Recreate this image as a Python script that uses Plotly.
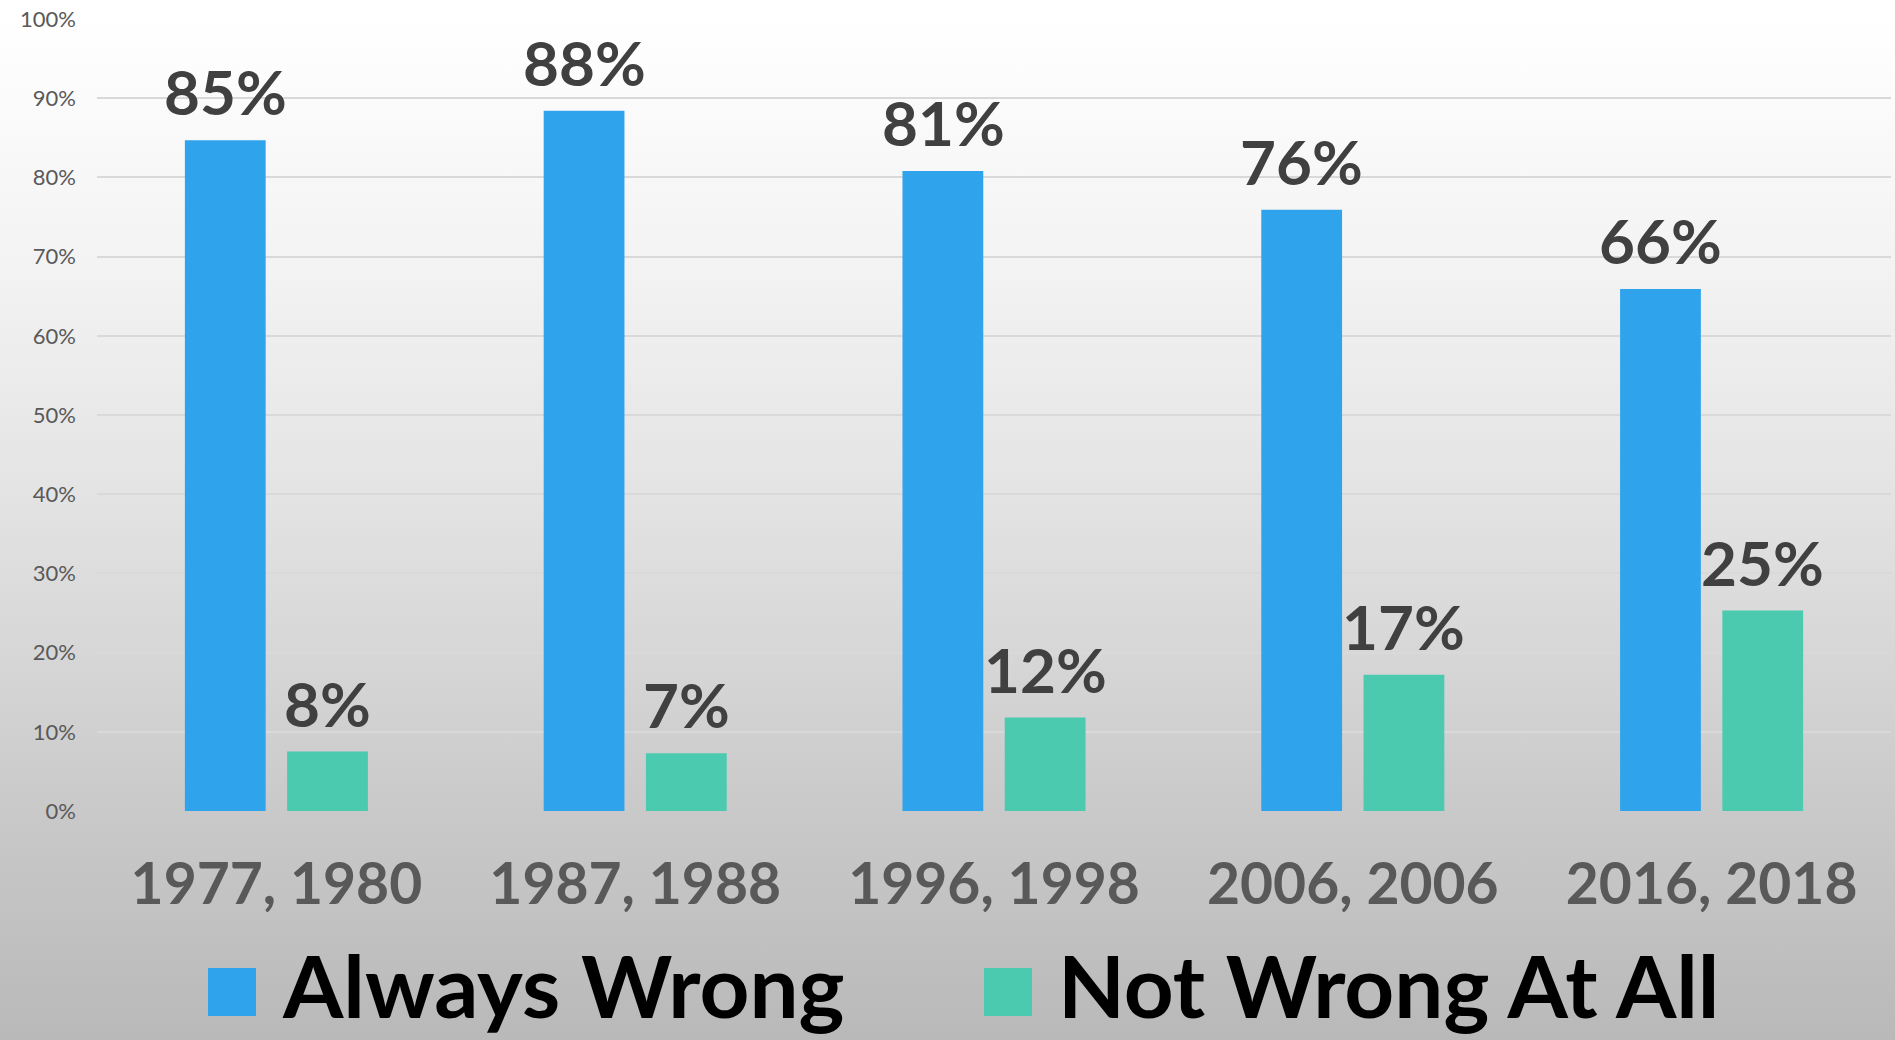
import base64
import plotly.graph_objects as go

categories = ["1977, 1980", "1987, 1988", "1996, 1998", "2006, 2006", "2016, 2018"]
series_names = ["Always Wrong", "Not Wrong At All"]
always_wrong = [84.7, 88.4, 80.8, 75.9, 65.9]
not_wrong = [7.5, 7.3, 11.8, 17.2, 25.3]
colors = ["#2FA3EC", "#4BCAAF"]
y_ticks = [0, 10, 20, 30, 40, 50, 60, 70, 80, 90, 100]

W, H = 1895, 1040
ML, MR, MT, MB = 97, 4, 19, 229
PW, PH = W - ML - MR, H - MT - MB


def px_x(px):
    return (px - ML) / PW


def px_y(py):
    return (H - MB - py) / PH


FONT = "Lato"

fig = go.Figure()
for name, vals, col in zip(series_names, [always_wrong, not_wrong], colors):
    fig.add_trace(go.Bar(x=categories, y=vals, name=name, marker=dict(color=col, line=dict(width=0)),
                         showlegend=False, hoverinfo="x+y"))

# value labels
annotations = []
for i, (vals, shift) in enumerate(zip([always_wrong, not_wrong], [-51, 51])):
    for c, v in zip(categories, vals):
        annotations.append(dict(x=c, y=v, xref="x", yref="y", text=f"{v:.0f}%", showarrow=False,
                                xshift=shift, yshift=10, yanchor="bottom", xanchor="center",
                                font=dict(family=FONT, size=62, color="#404040", weight="bold")))

# legend (manual, large)
shapes = []
legend_sq = [(208, 968), (984, 968)]
legend_tx = [280, 1056]
for (sx, sy), tx, name, col in zip(legend_sq, legend_tx, series_names, colors):
    shapes.append(dict(type="rect", xref="paper", yref="paper", x0=px_x(sx), x1=px_x(sx + 48),
                       y0=px_y(sy + 48), y1=px_y(sy), fillcolor=col, line=dict(width=0), layer="above"))
    annotations.append(dict(x=px_x(tx), y=px_y(1039), xref="paper", yref="paper", text=name,
                            showarrow=False, xanchor="left", yanchor="bottom",
                            font=dict(family=FONT, size=87, color="#000000", weight="bold")))

svg = f'''<svg xmlns="http://www.w3.org/2000/svg" width="{W}" height="{H}" preserveAspectRatio="none">
<defs><linearGradient id="g" x1="0" y1="0" x2="0" y2="1">
<stop offset="0" stop-color="#ffffff"/>
<stop offset="0.04" stop-color="#fefefe"/>
<stop offset="0.27" stop-color="#f2f2f2"/>
<stop offset="0.48" stop-color="#e3e3e3"/>
<stop offset="0.67" stop-color="#d3d3d3"/>
<stop offset="0.78" stop-color="#c9c9c9"/>
<stop offset="1" stop-color="#b9b9b9"/>
</linearGradient></defs>
<rect x="0" y="0" width="{W}" height="{H}" fill="url(#g)"/></svg>'''
src = "data:image/svg+xml;base64," + base64.b64encode(svg.encode()).decode()

fig.update_layout(
    width=W, height=H,
    margin=dict(l=ML, r=MR, t=MT, b=MB, pad=0),
    paper_bgcolor="#ffffff",
    plot_bgcolor="rgba(0,0,0,0)",
    barmode="group", bargap=0.43, bargroupgap=0.21,
    showlegend=False,
    annotations=annotations,
    shapes=shapes,
    images=[dict(source=src, xref="paper", yref="paper", x=px_x(0), y=px_y(0),
                 sizex=W / PW, sizey=H / PH, xanchor="left", yanchor="top",
                 sizing="stretch", layer="below")],
    xaxis=dict(showgrid=False, zeroline=False, showline=False, ticks="",
               tickfont=dict(family=FONT, size=57, color="#595959", weight="bold"),
               ticklabelstandoff=35),
    yaxis=dict(range=[0, 100], tickvals=y_ticks, ticktext=[f"{t}%" for t in y_ticks],
               showgrid=True, gridcolor="#d9d9d9", gridwidth=2, zeroline=False, showline=False,
               ticks="", tickfont=dict(family=FONT, size=22, color="#595959"),
               ticklabelstandoff=20),
)

fig.write_html("out.html", config={"displayModeBar": False},
               post_script="document.body.style.margin='0';document.body.style.overflow='hidden';")
